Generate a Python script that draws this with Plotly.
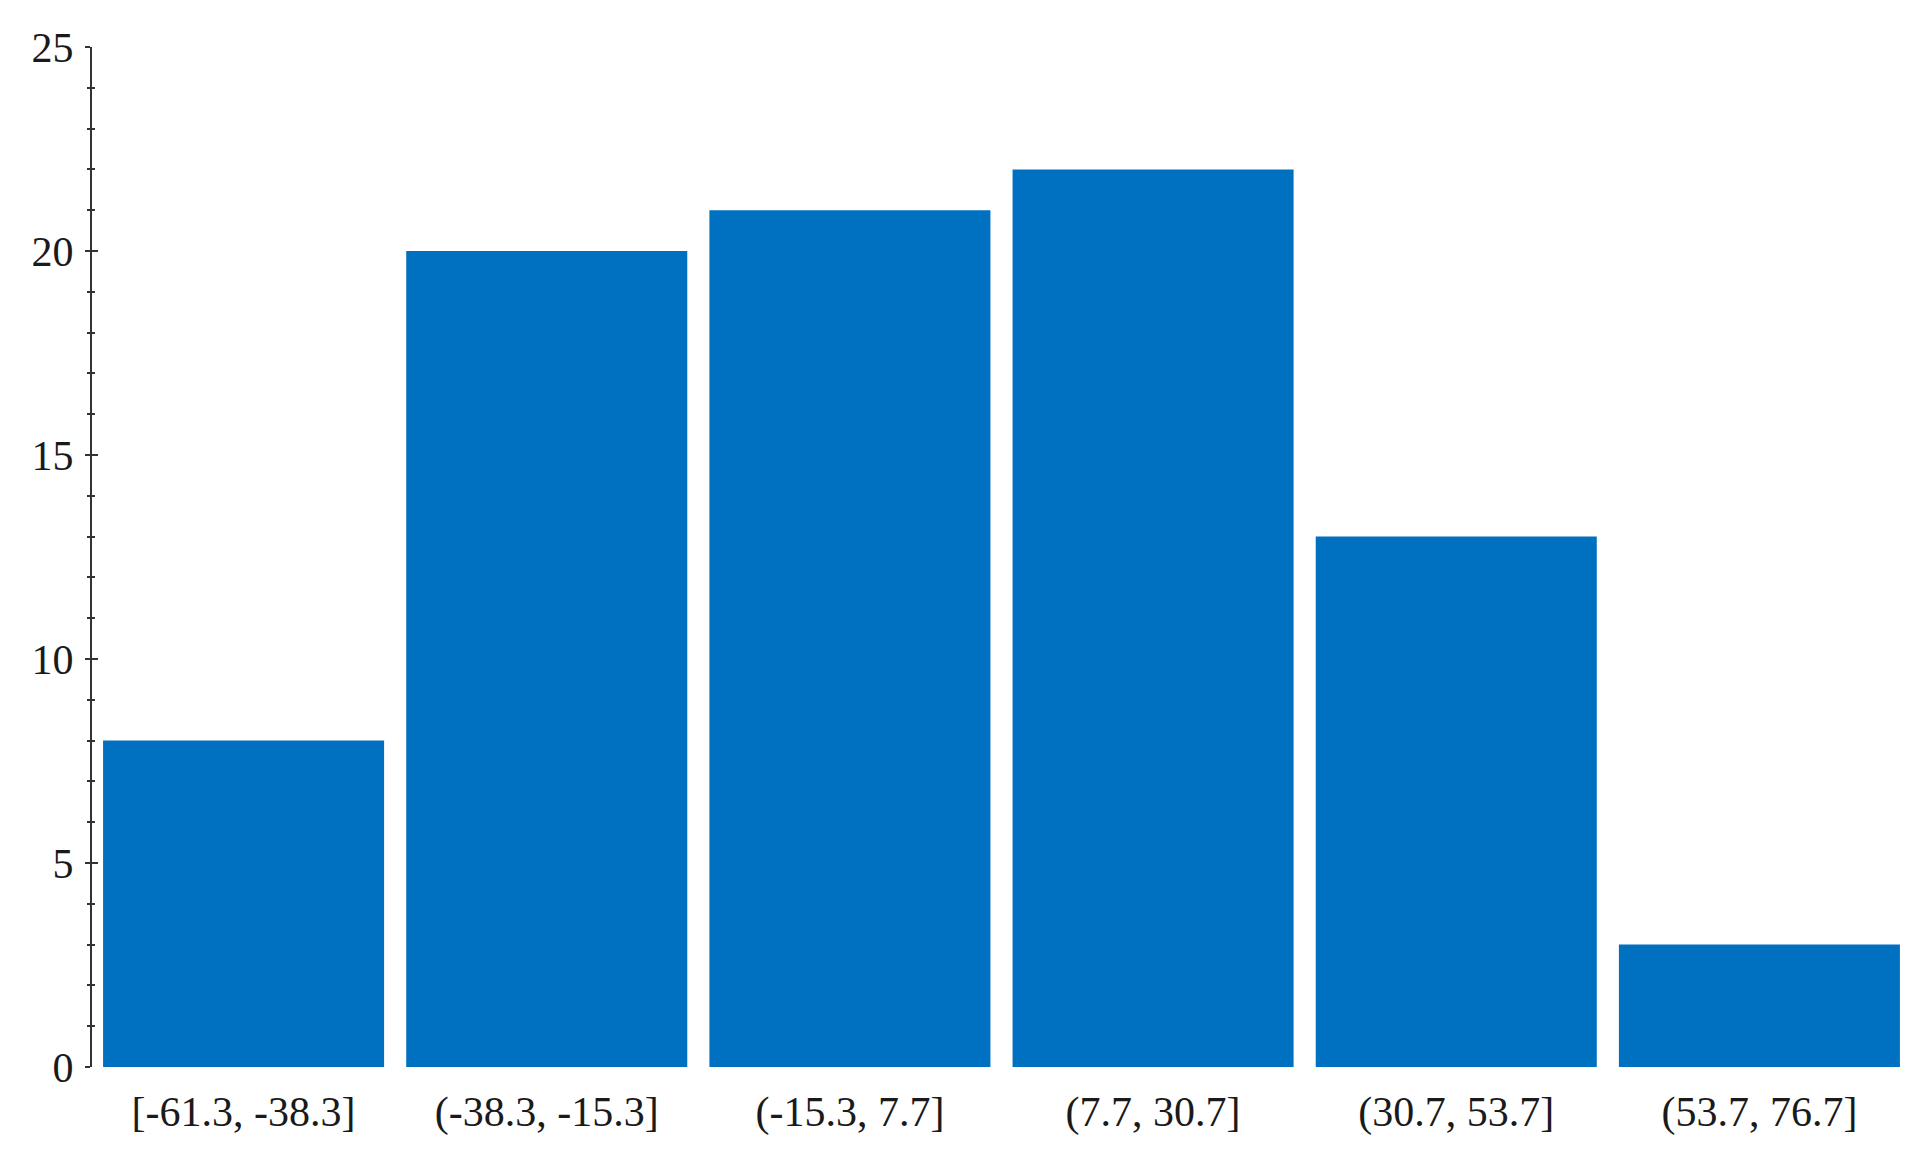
"""
Histogram of binned values drawn as a Plotly bar chart.
"""

import plotly.graph_objects as go

# Bin labels and counts.
BIN_LABELS = [
    "[-61.3, -38.3]",
    "(-38.3, -15.3]",
    "(-15.3, 7.7]",
    "(7.7, 30.7]",
    "(30.7, 53.7]",
    "(53.7, 76.7]",
]
COUNTS = [8, 20, 21, 22, 13, 3]

BAR_COLOR = "#0070C0"
FONT = dict(family="Liberation Serif, Times New Roman, serif", size=42, color="#1a1a1a")

fig = go.Figure()
fig.add_trace(go.Bar(
    x=BIN_LABELS, y=COUNTS,
    marker=dict(color=BAR_COLOR, line=dict(width=0)),
))
# invisible trace so the overlaid y axis (inner ticks) gets drawn
fig.add_trace(go.Scatter(
    x=[BIN_LABELS[0]], y=[0], yaxis="y2", mode="markers",
    marker=dict(opacity=0), hoverinfo="skip",
))

# page body has an 8px margin, so the figure is 16px smaller than the window
fig.update_layout(
    width=1916, height=1152,
    paper_bgcolor="white", plot_bgcolor="white",
    font=FONT,
    showlegend=False,
    bargap=0.073,
    margin=dict(l=84, r=13, t=39, b=93),
    xaxis=dict(
        range=[-0.5, 5.5], showgrid=False, showline=False, zeroline=False,
        ticks="", ticklabelstandoff=16,
    ),
    yaxis=dict(
        range=[0, 25], dtick=5, showgrid=False, zeroline=False,
        showline=True, linecolor="#333333", linewidth=2,
        ticks="outside", ticklen=5, tickwidth=2, tickcolor="#333333",
        ticklabelstandoff=3,
        minor=dict(dtick=1, ticks="outside", ticklen=3, tickwidth=1.5, tickcolor="#333333"),
    ),
    # second copy of the y axis so the ticks cross the axis line
    yaxis2=dict(
        range=[0, 25], dtick=5, overlaying="y", side="left", showgrid=False,
        zeroline=False, showticklabels=False, showline=False,
        ticks="inside", ticklen=6, tickwidth=2, tickcolor="#333333",
        minor=dict(dtick=1, ticks="inside", ticklen=3, tickwidth=1.5, tickcolor="#333333"),
    ),
)

fig.write_html("out.html")
